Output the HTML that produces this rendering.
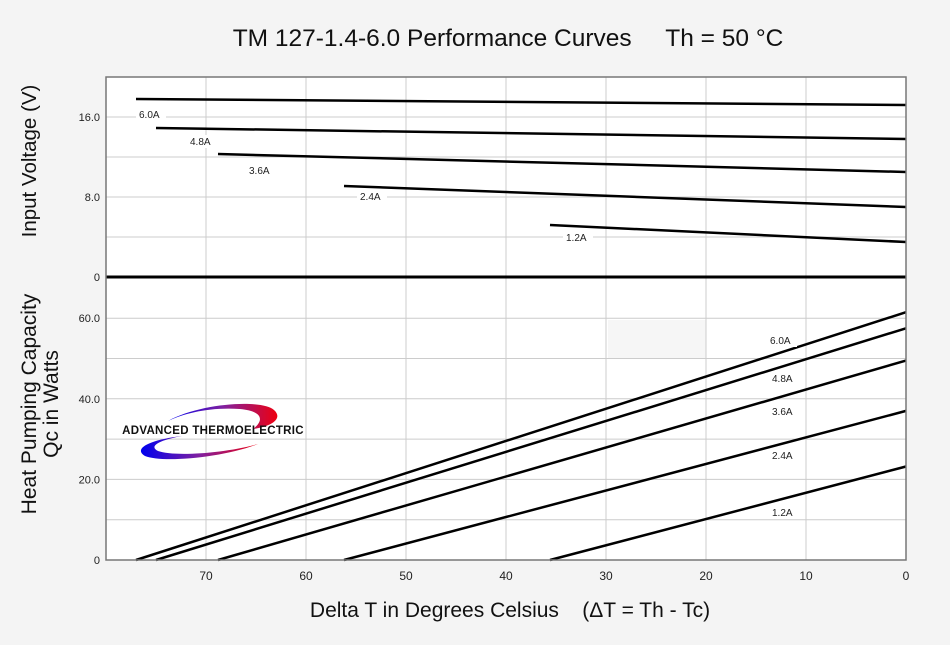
<!DOCTYPE html>
<html><head><meta charset="utf-8"><style>
body{margin:0;background:#f4f4f4;}
svg{display:block;font-family:"Liberation Sans",sans-serif;}
</style></head><body>
<svg id="c" width="950" height="645">
<defs><linearGradient id="g" x1="0" x2="1"><stop offset="0" stop-color="#0000ee"/><stop offset="0.5" stop-color="#8020a0"/><stop offset="1" stop-color="#ee0010"/></linearGradient></defs>
<rect width="950" height="645" fill="#f4f4f4"/>
<rect x="106" y="77" width="800" height="483" fill="#fff"/>
<rect x="608" y="320" width="98" height="38" fill="#f6f6f6"/>
<g id="grid"></g>
<g id="ticks" font-size="11" fill="#222"></g>
<g id="series"></g>
<g>
<path d="M168,421 C200,403 262,399 274,410 C284,419 270,427 253,429 C265,420 262,411 240,409 C210,407 185,413 168,421Z" fill="url(#g)"/>
<path d="M182,436 C148,440 133,449 145,456 C162,463 222,458 258,444 C226,453 175,457 158,451 C148,446 160,440 182,436Z" fill="url(#g)"/>
<text x="213" y="434" font-size="11.5" font-weight="bold" text-anchor="middle" fill="#111" letter-spacing="0.3">ADVANCED THERMOELECTRIC</text>
</g>
<rect x="106" y="77" width="800" height="483" fill="none" stroke="#777" stroke-width="1.5"/>
<text x="508" y="46" font-size="24.5" text-anchor="middle" fill="#111">TM 127-1.4-6.0 Performance Curves &#160;&#160;&#160; Th = 50 °C</text>
<text x="510" y="617" font-size="21" text-anchor="middle" fill="#111">Delta T in Degrees Celsius &#160;&#160;&#160;(ΔT = Th - Tc)</text>
<text transform="translate(36,161) rotate(-90)" font-size="20.5" text-anchor="middle" fill="#111">Input Voltage (V)</text>
<text transform="translate(36,404) rotate(-90)" font-size="21" text-anchor="middle" fill="#111">Heat Pumping Capacity</text>
<text transform="translate(58,404) rotate(-90)" font-size="21" text-anchor="middle" fill="#111">Qc in Watts</text>
</svg>
<script>
const currents=["6.0A","4.8A","3.6A","2.4A","1.2A"];
const startDT=[77,75,68.8,56.2,35.6];
const vStart=[17.8,14.9,12.3,9.1,5.2];
const vEnd=[17.2,13.8,10.5,7.0,3.5];
const qEnd=[61.5,57.5,49.5,37,23.2];
const xTicks=[70,60,50,40,30,20,10,0];
const vTicks=[0,8.0,16.0];
const qTicks=[0,20.0,40.0,60.0];
const vLabelPos=[[150,117],[201,144],[260,173],[371,199],[577,240]];
const qLabelPos=[[781,343],[783,381],[783,414],[783,458],[783,515]];
const NS="http://www.w3.org/2000/svg";
const X=d=>906-d*10, YV=v=>277-v*10, YQ=q=>560-q*4.03;
function mk(p,t,a){const e=document.createElementNS(NS,t);for(const k in a)e.setAttribute(k,a[k]);document.getElementById(p).appendChild(e);return e;}
for(let d=10;d<80;d+=10){const e=mk('grid','line',{x1:X(d),x2:X(d),y1:77,y2:560,stroke:'#ccc'});

}
[4,8,12,16].forEach(v=>{const e=mk('grid','line',{x1:106,x2:906,y1:YV(v),y2:YV(v),stroke:'#ccc'});

});
[10,20,30,40,50,60].forEach(q=>{const e=mk('grid','line',{x1:106,x2:906,y1:YQ(q),y2:YQ(q),stroke:'#ccc'});

});
const z=mk('grid','line',{x1:106,x2:906,y1:277,y2:277,stroke:'#000','stroke-width':3});


xTicks.forEach(d=>{const t=mk('ticks','text',{x:X(d),y:580,'text-anchor':'middle','font-size':12});t.textContent=d;

});
vTicks.forEach(v=>{const t=mk('ticks','text',{x:100,y:YV(v)+4,'text-anchor':'end'});t.textContent=v===0?'0':v.toFixed(1);

});
qTicks.forEach(q=>{const t=mk('ticks','text',{x:100,y:YQ(q)+4,'text-anchor':'end'});t.textContent=q===0?'0':q.toFixed(1);

});
currents.forEach((c,i)=>{
const l=mk('series','line',{x1:X(startDT[i]),y1:YV(vStart[i]),x2:X(0),y2:YV(vEnd[i]),stroke:'#000','stroke-width':2.5});


const q=mk('series','line',{x1:X(startDT[i]),y1:YQ(0),x2:X(0),y2:YQ(qEnd[i]),stroke:'#000','stroke-width':2.5});


[[vLabelPos[i],'voltage-label-'],[qLabelPos[i],'capacity-label-']].forEach(([p,n])=>{
const r=mk('series','rect',{x:p[0]-14,y:p[1]-9,width:30,height:13,fill:'#fff'});


const t=mk('series','text',{x:p[0]-11,y:p[1]+1,'font-size':10,fill:'#222'});
t.textContent=c;

});
});
</script>
</body></html>
